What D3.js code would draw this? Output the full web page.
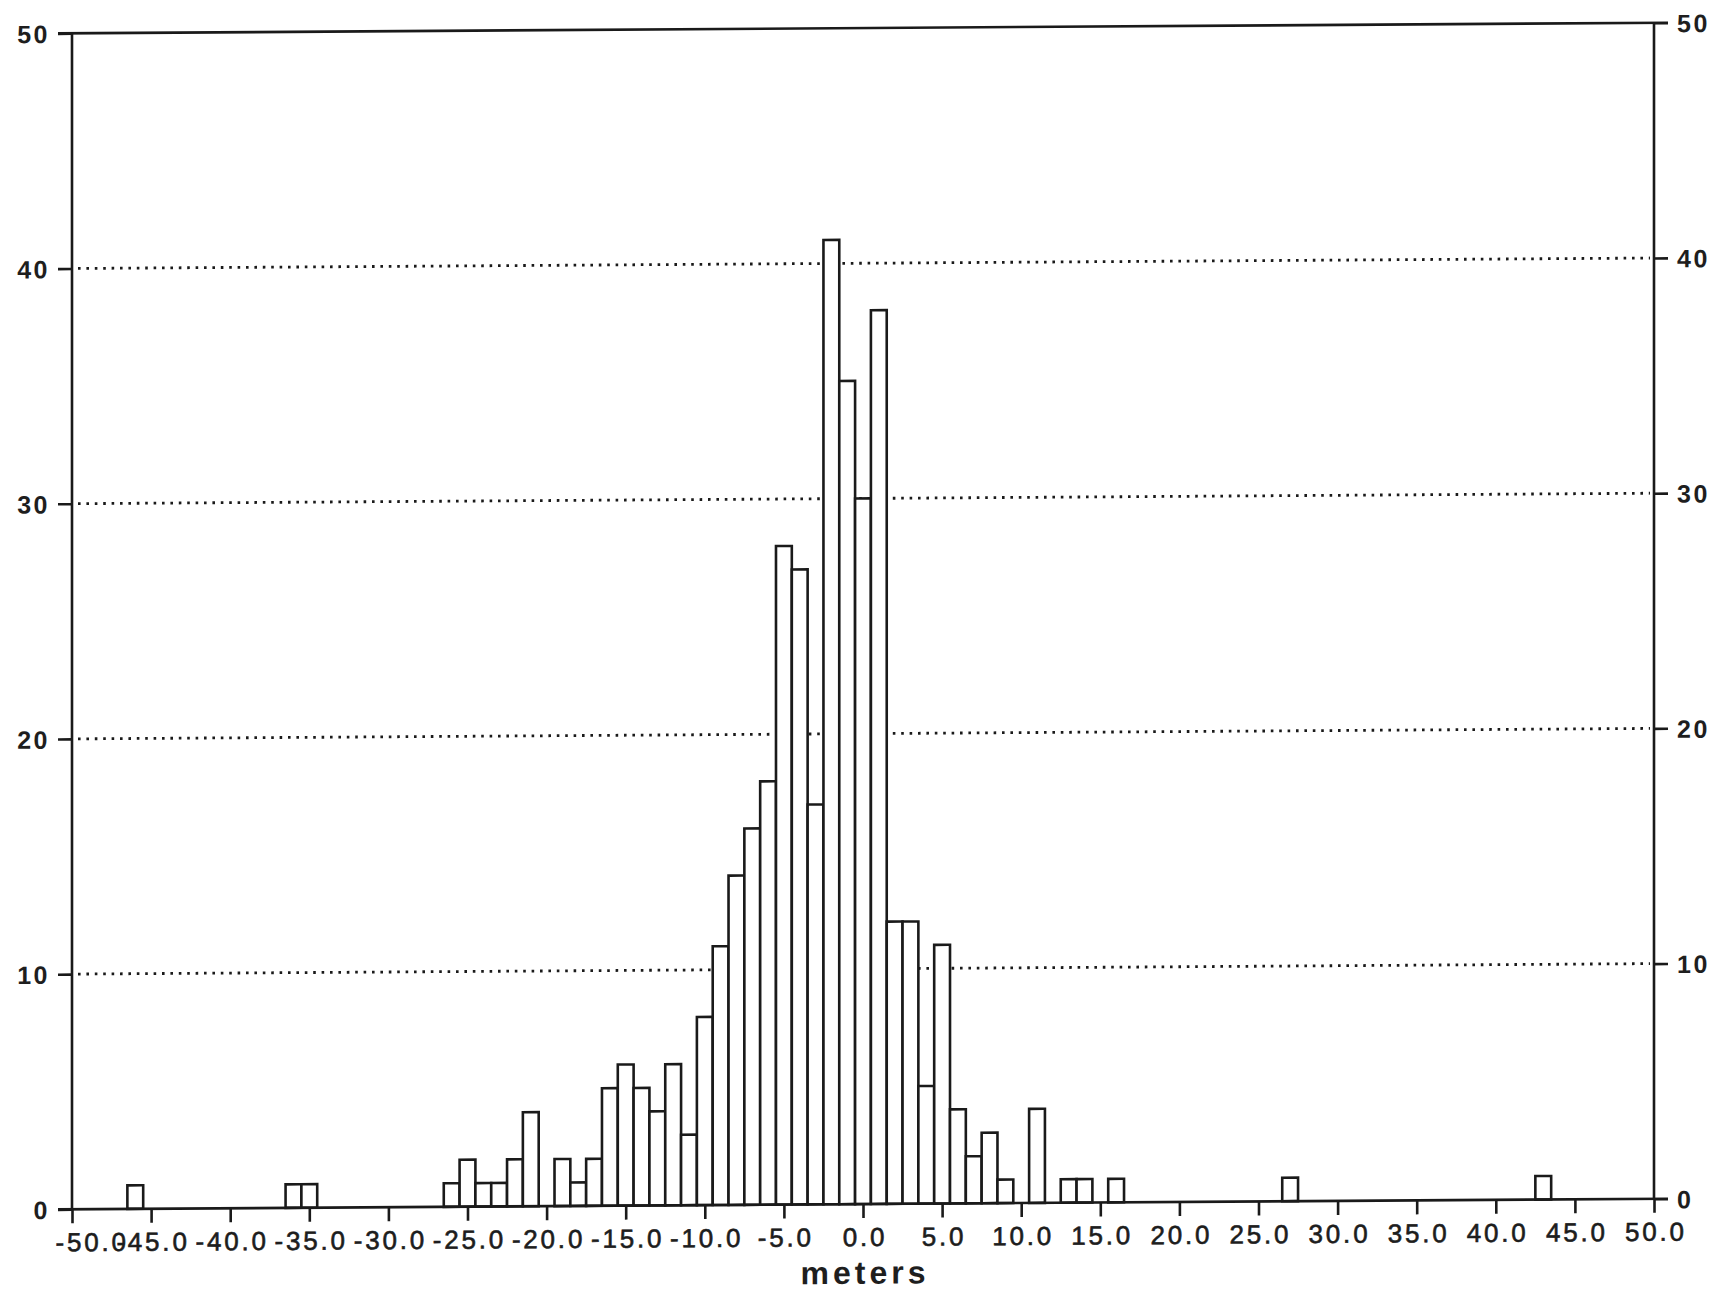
<!DOCTYPE html>
<html>
<head>
<meta charset="utf-8">
<script src="https://cdn.jsdelivr.net/npm/d3@7"></script>
<style>
  html, body { margin: 0; padding: 0; background: #ffffff; }
  svg { display: block; }
  text { font-family: "Liberation Sans", Arial, Helvetica, sans-serif; fill: #1e1e1e; }
</style>
</head>
<body>
<svg id="chart" width="1722" height="1293"></svg>
<script>
// ---- data (bins are 1 m wide, centred on the value) ----
const binCenters = [-46, -36, -35,
  -26, -25, -24, -23, -22, -21,
  -19, -18, -17, -16, -15, -14, -13, -12, -11, -10, -9, -8, -7, -6, -5, -4, -3, -2, -1,
  0, 1, 2, 3, 4, 5, 6, 7, 8, 9,
  11, 13, 14, 16, 27, 43];
const counts = [1, 1, 1,
  1, 2, 1, 1, 2, 4,
  2, 1, 2, 5, 6, 5, 4, 6, 3, 8, 11, 14, 16, 18, 28, 27, 17, 41, 35,
  30, 38, 12, 12, 5, 11, 4, 2, 3, 1,
  4, 1, 1, 1, 1, 1];
const xTicks = [-50, -45, -40, -35, -30, -25, -20, -15, -10, -5, 0, 5, 10, 15, 20, 25, 30, 35, 40, 45, 50];
const xTickLabels = ["-50.0", "-45.0", "-40.0", "-35.0", "-30.0", "-25.0", "-20.0", "-15.0", "-10.0", "-5.0",
  "0.0", "5.0", "10.0", "15.0", "20.0", "25.0", "30.0", "35.0", "40.0", "45.0", "50.0"];
const yTicks = [0, 10, 20, 30, 40, 50];
const yGridTicks = [10, 20, 30, 40];
const xTitle = "meters";

// ---- layout ----
const L = 72, R = 1654, T = 33.3, B = 1209.3;
const tickLen = 14;
const ink = "#1a1a1a";
const skew = -0.00664; // the scanned page is slightly tilted

const x = d3.scaleLinear().domain([-50, 50]).range([L, R]);
const y = d3.scaleLinear().domain([0, 50]).range([B, T]);

const svg = d3.select("#chart");
svg.append("rect").attr("width", 1722).attr("height", 1293).attr("fill", "#ffffff");
const g = svg.append("g")
  .attr("transform", `matrix(1, ${skew}, 0, 1, 0, ${-skew * L})`);

// dotted gridlines
g.append("g").selectAll("line").data(yGridTicks).join("line")
  .attr("x1", L + 6).attr("x2", R - 4)
  .attr("y1", d => y(d)).attr("y2", d => y(d))
  .attr("stroke", ink).attr("stroke-width", 2.8)
  .attr("stroke-dasharray", "2.6 5.8");

// bars
const bins = binCenters.map((c, i) => ({ c, n: counts[i] }));
g.append("g").selectAll("rect").data(bins).join("rect")
  .attr("x", d => x(d.c - 0.5))
  .attr("width", d => x(d.c + 0.5) - x(d.c - 0.5))
  .attr("y", d => y(d.n))
  .attr("height", d => y(0) - y(d.n))
  .attr("fill", "#ffffff")
  .attr("stroke", ink).attr("stroke-width", 2.6);

// frame lines
const frame = g.append("g").attr("stroke", ink).attr("stroke-width", 2.6).attr("fill", "none");
frame.append("line").attr("x1", L - tickLen).attr("x2", R + tickLen).attr("y1", y(50)).attr("y2", y(50));
frame.append("line").attr("x1", L - tickLen).attr("x2", R + tickLen).attr("y1", y(0)).attr("y2", y(0));
frame.append("line").attr("x1", L).attr("x2", L).attr("y1", y(50)).attr("y2", y(0));
frame.append("line").attr("x1", R).attr("x2", R).attr("y1", y(50)).attr("y2", y(0));

// x axis ticks and labels
const xAxis = d3.axisBottom(x).tickValues(xTicks).tickSize(tickLen).tickSizeOuter(0)
  .tickFormat((d, i) => xTickLabels[i]);
const gx = g.append("g").attr("transform", `translate(0,${y(0)})`).call(xAxis);
gx.select(".domain").remove();
gx.selectAll(".tick line").attr("stroke", ink).attr("stroke-width", 2.6);
gx.selectAll(".tick text")
  .attr("fill", ink).attr("stroke", ink).attr("stroke-width", 0.6)
  .attr("font-size", 26).attr("letter-spacing", "2.8px")
  .attr("font-family", "'Liberation Sans', Arial, sans-serif")
  .attr("y", 42).attr("dy", 0)
  .attr("dx", 1.4)
  .filter(d => d === -50).attr("text-anchor", "start").attr("dx", -17);

// y axis left
const yl = d3.axisLeft(y).tickValues(yTicks).tickSize(tickLen).tickSizeOuter(0).tickFormat(d3.format("d"));
const gyl = g.append("g").attr("transform", `translate(${L},0)`).call(yl);
gyl.select(".domain").remove();
gyl.selectAll(".tick line").attr("stroke", ink).attr("stroke-width", 2.6);
gyl.selectAll(".tick text").attr("fill", ink).attr("font-size", 25).attr("font-weight", "bold")
  .attr("letter-spacing", "2.5px")
  .attr("font-family", "'Liberation Sans', Arial, sans-serif")
  .attr("x", -22).attr("dy", "0.36em");

// y axis right
const yr = d3.axisRight(y).tickValues(yTicks).tickSize(tickLen).tickSizeOuter(0).tickFormat(d3.format("d"));
const gyr = g.append("g").attr("transform", `translate(${R},0)`).call(yr);
gyr.select(".domain").remove();
gyr.selectAll(".tick line").attr("stroke", ink).attr("stroke-width", 2.6);
gyr.selectAll(".tick text").attr("fill", ink).attr("font-size", 25).attr("font-weight", "bold")
  .attr("letter-spacing", "2.5px")
  .attr("font-family", "'Liberation Sans', Arial, sans-serif")
  .attr("x", 23).attr("dy", "0.36em");

// x title
g.append("text")
  .attr("x", x(0) + 2).attr("y", 1289)
  .attr("text-anchor", "middle")
  .attr("font-size", 32).attr("font-weight", "bold").attr("letter-spacing", "4px")
  .text(xTitle);
</script>
</body>
</html>
